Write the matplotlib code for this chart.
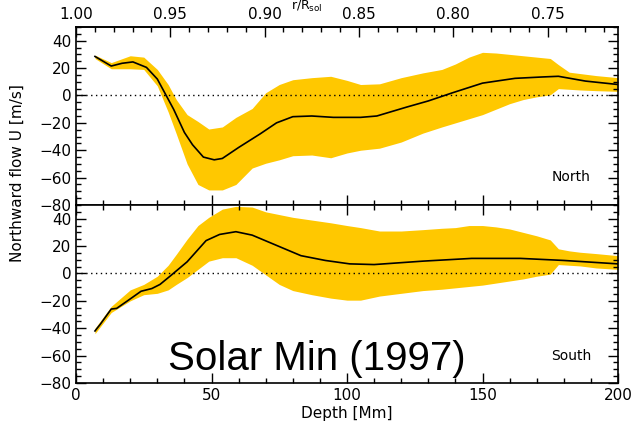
import matplotlib
matplotlib.use("Agg")
import matplotlib.pyplot as plt
import numpy as np
from matplotlib.ticker import MultipleLocator, FormatStrFormatter

R_SOL = 696.0
BAND = '#FFC800'

# common depth grid of the error bands [Mm]
band_depth = [7, 13, 20, 25, 30, 34, 37, 41, 45, 49, 54, 59, 65, 70, 75, 80, 87, 94,
              100, 105, 112, 120, 128, 135, 140, 145, 150, 155, 160, 165, 170, 175,
              178, 182, 186, 192, 200]

# North hemisphere
north_depth = [7, 10, 13, 17, 21, 26, 30, 33, 36, 40, 43, 47, 51, 54, 60, 68, 74, 80,
               87, 95, 105, 111, 122, 130, 139, 150, 162, 172, 178, 188, 200]
north_u = [28.5, 25, 21.5, 23.5, 24.5, 20.5, 12, 1, -10, -27, -36, -45, -47, -46, -38,
           -28, -20, -15.5, -15, -16, -16, -15, -8.5, -4, 2, 9, 12.5, 13.5, 14, 10.5, 8]
north_hi = [29.5, 24, 29, 28, 19, 8, -3, -14, -19, -24.5, -23, -16, -9.5, 2, 8, 11.5,
            13, 14, 11, 8, 8.5, 13, 16.5, 19, 23, 28, 31.5, 31, 30, 29, 28, 27,
            22.5, 17, 16, 14.5, 13]
north_lo = [27, 19.5, 19.5, 19, 7, -12, -28, -50, -65, -69, -69, -65, -53, -49.5, -47,
            -44, -43.5, -45.5, -42, -40, -38.5, -34, -27.5, -23, -20, -17, -14, -10,
            -6, -3, -1, 0.5, 5, 4.5, 4, 3.5, 3]

# South hemisphere
south_depth = [7, 9, 13, 15, 19, 24, 28, 31, 35, 41, 48, 53, 59, 65, 74, 83, 92, 101,
               110, 128, 146, 164, 180, 200]
south_u = [-42, -37, -26, -25.5, -20, -13, -11, -8, -1.5, 8.5, 24, 28.5, 30.5, 28,
           20.5, 13, 9.5, 7, 6.5, 9, 11, 11, 9.5, 7]
south_hi = [-40, -24, -12, -8, -2, 6, 14, 25, 35, 41, 47, 49, 48.5, 45, 43, 41, 39, 37,
            35, 33.5, 31, 31, 32, 33, 33.5, 35, 35, 34, 32.5, 30, 27.5, 24.5,
            18, 16.5, 15.5, 14.5, 13]
south_lo = [-44, -28.5, -20, -15.5, -14.5, -12, -8, -3, 3, 9, 11.5, 11.5, 6, -1, -8,
            -12.5, -15.5, -18, -19.5, -19.5, -16.5, -14.5, -12.5, -11.5, -10.5, -9.5,
            -8.5, -7, -5.5, -4, -2, -0.5, 6.5, 6, 5.5, 4, 3]

r_ticks = [1.00, 0.95, 0.90, 0.85, 0.80, 0.75]

W, H = 635, 433
fig = plt.figure(figsize=(W / 100, H / 100), dpi=100)
ax_n = fig.add_axes([76 / W, 1 - 205 / H, 542 / W, 178 / H])
ax_s = fig.add_axes([76 / W, 1 - 383 / H, 542 / W, 178 / H])


def style(ax, top=True):
    ax.set_xlim(0, 200)
    ax.set_ylim(-80, 50)
    ax.xaxis.set_major_locator(MultipleLocator(50))
    ax.xaxis.set_minor_locator(MultipleLocator(10))
    ax.yaxis.set_minor_locator(MultipleLocator(5))
    ax.set_yticks([-80, -60, -40, -20, 0, 20, 40])
    ax.tick_params(which='both', direction='in', top=top, right=True,
                   labelsize=11, width=1.0)
    ax.tick_params(which='major', length=7)
    ax.tick_params(which='minor', length=3.5)
    for sp in ax.spines.values():
        sp.set_linewidth(1.2)
    # dotted zero line
    ax.axhline(0, color='black', linestyle=(0, (1, 2.5)), linewidth=1.0, zorder=3)


ax_n.fill_between(band_depth, north_lo, north_hi, color=BAND, linewidth=0)
ax_n.plot(north_depth, north_u, color='black', linewidth=1.2, zorder=4)
style(ax_n, top=False)
ax_n.tick_params(labelbottom=False)
ax_n.text(0.95, 0.16, 'North', transform=ax_n.transAxes, ha='right', va='center',
          fontsize=10)

# r/R_sol scale on top of the upper panel
sec = ax_n.secondary_xaxis('top', functions=(lambda d: 1 - d / R_SOL,
                                             lambda r: (1 - r) * R_SOL))
sec.set_xticks(r_ticks)
sec.xaxis.set_minor_locator(MultipleLocator(0.01))
sec.xaxis.set_major_formatter(FormatStrFormatter('%.2f'))
sec.tick_params(which='both', direction='in', labelsize=11, width=1.0)
sec.tick_params(which='major', length=7)
sec.tick_params(which='minor', length=3.5)
sec.spines['top'].set_linewidth(1.2)

ax_s.fill_between(band_depth, south_lo, south_hi, color=BAND, linewidth=0)
ax_s.plot(south_depth, south_u, color='black', linewidth=1.2, zorder=4)
style(ax_s)
ax_s.text(0.95, 0.152, 'South', transform=ax_s.transAxes, ha='right', va='center',
          fontsize=10)
ax_s.set_xlabel('Depth [Mm]', fontsize=11, labelpad=2)

fig.text(17 / W, 1 - 173 / H, 'Northward flow U [m/s]', rotation=90,
         ha='center', va='center', fontsize=11)
fig.text(307 / W, 1 - 10 / H, r'r/R$_{\rm sol}$', ha='center', va='baseline',
         fontsize=9)
fig.text(168 / W, 1 - 370 / H, 'Solar Min (1997)', ha='left', va='baseline',
         fontsize=29, family='Liberation Sans')

fig.savefig('out.png', dpi=100)
